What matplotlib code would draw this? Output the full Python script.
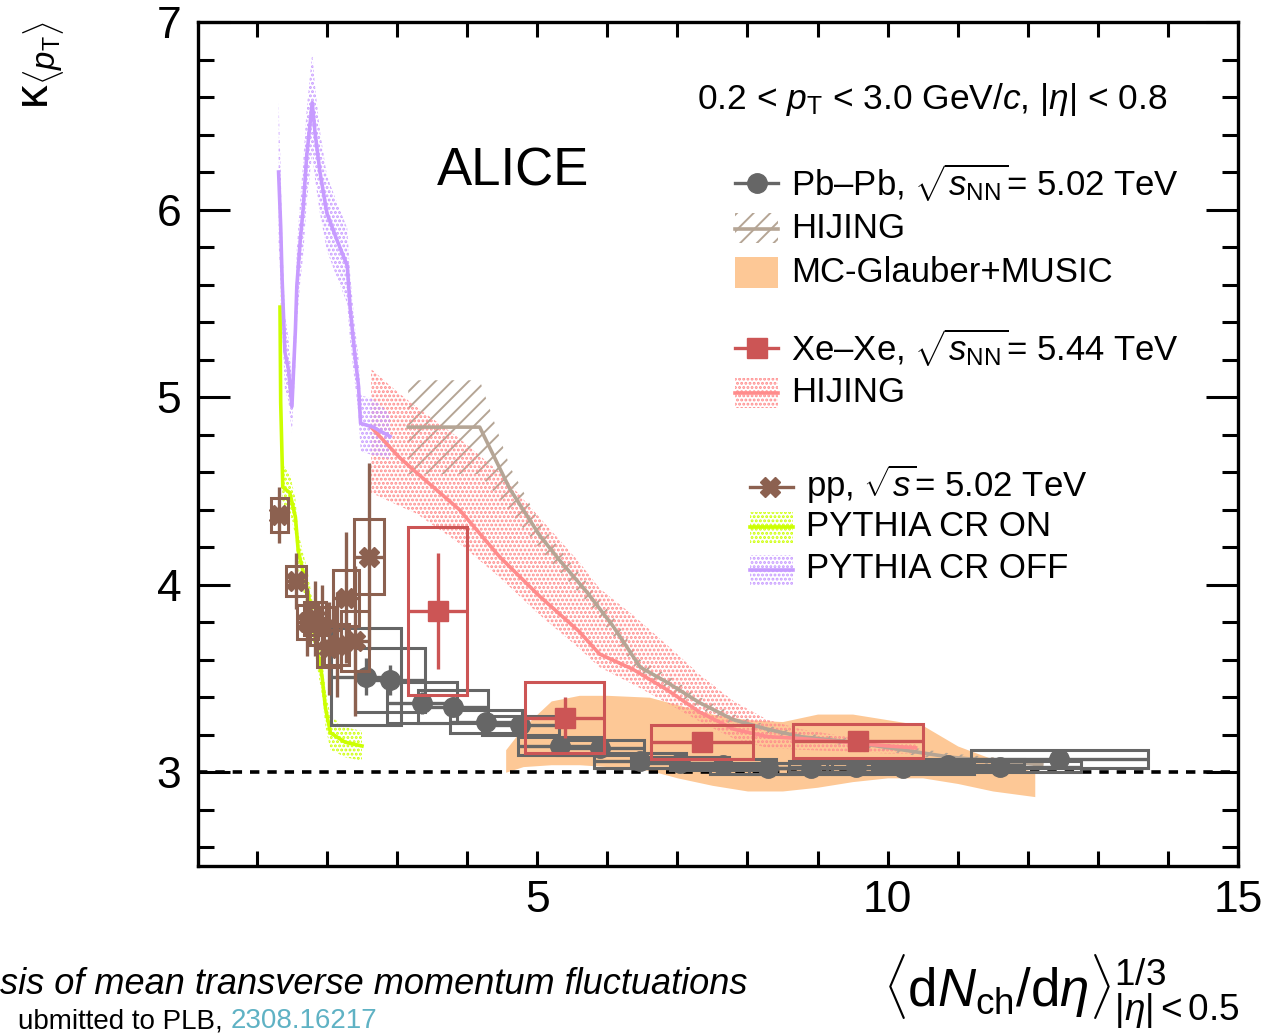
import numpy as np
import matplotlib
matplotlib.use("Agg")
import matplotlib.pyplot as plt
from matplotlib.patches import Rectangle
from matplotlib.lines import Line2D

plt.rcParams['font.family'] = ['Liberation Sans', 'DejaVu Sans']
plt.rcParams['mathtext.fontset'] = 'custom'
plt.rcParams['mathtext.rm'] = 'Liberation Sans'
plt.rcParams['mathtext.it'] = 'Liberation Sans:italic'
plt.rcParams['mathtext.bf'] = 'Liberation Sans:bold'
plt.rcParams['hatch.linewidth'] = 1.4

# ---------------- data ----------------
# Pb-Pb 5.02 TeV
pb_x = [2.56, 2.90, 3.35, 3.80, 4.27, 4.76, 5.33, 5.90, 6.47, 7.04, 7.65, 8.30, 8.91, 9.55, 10.22, 10.86, 11.60, 12.45]
pb_y = [3.51, 3.49, 3.37, 3.35, 3.27, 3.25, 3.14, 3.13, 3.06, 3.05, 3.04, 3.02, 3.02, 3.03, 3.02, 3.04, 3.03, 3.07]
pb_stat = [0.10, 0.08, 0.06, 0.05, 0.04, 0.03, 0.03, 0.02, 0.02, 0.02, 0.02, 0.02, 0.02, 0.02, 0.02, 0.02, 0.02, 0.02]
pb_sysx = [0.50, 0.50, 0.50, 0.50, 0.52, 0.55, 0.60, 0.62, 0.66, 0.70, 0.76, 0.83, 0.89, 0.95, 1.02, 1.08, 1.16, 1.26]
pb_sysy = [0.26, 0.17, 0.11, 0.09, 0.06, 0.05, 0.05, 0.04, 0.04, 0.03, 0.03, 0.03, 0.03, 0.03, 0.03, 0.03, 0.03, 0.05]

# Xe-Xe 5.44 TeV
xe_x = [3.58, 5.39, 7.35, 9.58]
xe_y = [3.86, 3.29, 3.16, 3.165]
xe_stat = [0.31, 0.11, 0.03, 0.03]
xe_sysx = [0.42, 0.56, 0.73, 0.93]
xe_sysy = [0.45, 0.19, 0.09, 0.09]

# pp 5.02 TeV
pp_x = [1.32, 1.56, 1.72, 1.83, 1.93, 2.03, 2.14, 2.27, 2.40, 2.60]
pp_y = [4.37, 4.02, 3.80, 3.82, 3.78, 3.66, 3.68, 3.93, 3.70, 4.15]
pp_stat = [0.15, 0.15, 0.18, 0.20, 0.22, 0.25, 0.28, 0.35, 0.40, 0.50]
pp_sysx = [0.12, 0.14, 0.15, 0.16, 0.17, 0.17, 0.18, 0.19, 0.20, 0.21]
pp_sysy = [0.09, 0.08, 0.09, 0.09, 0.10, 0.10, 0.11, 0.15, 0.16, 0.20]

# HIJING Pb-Pb
hpb_x = [3.16, 4.18, 4.61, 5.04, 5.32, 5.71, 6.08, 6.47, 6.85, 7.32, 7.80, 8.28, 8.75, 9.50, 10.20, 10.90, 11.50, 12.20]
hpb_y = [4.84, 4.84, 4.51, 4.26, 4.13, 3.96, 3.78, 3.56, 3.48, 3.37, 3.28, 3.23, 3.19, 3.16, 3.12, 3.08, 3.06, 3.04]
hpb_e = [0.25, 0.25, 0.12, 0.07, 0.06, 0.05, 0.05, 0.04, 0.04, 0.03, 0.03, 0.02, 0.02, 0.02, 0.02, 0.02, 0.02, 0.02]

# HIJING Xe-Xe
hxe_x = [2.63, 3.03, 3.27, 3.89, 4.46, 5.03, 5.60, 5.89, 6.36, 6.85, 7.32, 7.80, 8.28, 8.75, 9.40, 10.00, 10.40]
hxe_y = [4.84, 4.68, 4.60, 4.40, 4.15, 3.94, 3.75, 3.63, 3.55, 3.44, 3.32, 3.23, 3.19, 3.18, 3.16, 3.14, 3.13]
hxe_up = [5.15, 5.02, 4.95, 4.78, 4.60, 4.36, 4.12, 3.98, 3.84, 3.68, 3.52, 3.38, 3.28, 3.23, 3.19, 3.17, 3.16]
hxe_lo = [4.49, 4.42, 4.38, 4.22, 4.04, 3.84, 3.66, 3.56, 3.47, 3.37, 3.27, 3.18, 3.13, 3.12, 3.11, 3.10, 3.10]

# MC-Glauber + MUSIC
mu_x = [4.55, 4.80, 5.20, 5.60, 6.00, 6.60, 7.00, 7.50, 8.00, 8.50, 9.00, 9.50, 10.00, 10.50, 11.00, 11.50, 12.10]
mu_up = [3.12, 3.24, 3.38, 3.41, 3.41, 3.40, 3.36, 3.31, 3.28, 3.27, 3.31, 3.31, 3.28, 3.25, 3.14, 3.07, 3.00]
mu_lo = [3.00, 3.03, 3.04, 3.04, 3.03, 3.01, 2.97, 2.93, 2.90, 2.90, 2.92, 2.95, 2.97, 2.97, 2.94, 2.90, 2.87]

# PYTHIA CR ON
on_x = [1.33, 1.34, 1.37, 1.47, 1.55, 1.59, 1.73, 1.86, 1.93, 1.98, 2.05, 2.26, 2.50]
on_y = [5.48, 4.97, 4.52, 4.49, 4.36, 4.18, 3.96, 3.66, 3.51, 3.34, 3.21, 3.16, 3.14]
on_e = [0.32, 0.20, 0.12, 0.10, 0.10, 0.10, 0.10, 0.10, 0.10, 0.10, 0.09, 0.08, 0.08]

# PYTHIA CR OFF
off_x = [1.31, 1.34, 1.36, 1.40, 1.45, 1.50, 1.55, 1.57, 1.62, 1.66, 1.71, 1.79, 1.83, 1.90, 2.00, 2.14, 2.29, 2.33, 2.40, 2.45, 2.48, 2.66, 2.90]
off_y = [6.20, 5.91, 5.63, 5.24, 5.15, 4.95, 5.36, 5.59, 5.84, 6.00, 6.28, 6.57, 6.41, 6.20, 5.98, 5.84, 5.70, 5.48, 5.22, 5.06, 4.86, 4.84, 4.79]
off_e = [0.38, 0.30, 0.25, 0.20, 0.17, 0.14, 0.18, 0.20, 0.22, 0.25, 0.25, 0.27, 0.25, 0.22, 0.20, 0.20, 0.20, 0.18, 0.15, 0.15, 0.15, 0.15, 0.12]

# colours
c_pb = '#666666'
c_xe = '#cc5555'
c_pp = '#8c6150'
c_hpb = '#b5a595'
c_mu = '#fdc896'
c_hxe = '#ff8c8c'
c_on = '#ccff00'
c_off = '#c79bff'

DOTS = '....'

W, H = 1287, 1035
fig = plt.figure(figsize=(W / 100, H / 100), dpi=100)
ax = fig.add_axes([198 / W, 1 - 866 / H, (1238 - 198) / W, (866 - 22) / H])
ax.set_xlim(0.16, 15.0)
ax.set_ylim(2.5, 7.0)

# bands
ax.fill_between(mu_x, mu_lo, mu_up, color=c_mu, lw=0, zorder=1)
ax.fill_between(hpb_x, np.array(hpb_y) - np.array(hpb_e), np.array(hpb_y) + np.array(hpb_e),
                facecolor='none', edgecolor=c_hpb, hatch='//', lw=0, zorder=2)
ax.fill_between(hxe_x, hxe_lo, hxe_up, facecolor='none', edgecolor=c_hxe, hatch=DOTS, lw=0, zorder=2)
ax.fill_between(on_x, np.array(on_y) - np.array(on_e), np.array(on_y) + np.array(on_e),
                facecolor='none', edgecolor=c_on, hatch=DOTS, lw=0, zorder=2)
ax.fill_between(off_x, np.array(off_y) - np.array(off_e), np.array(off_y) + np.array(off_e),
                facecolor='none', edgecolor=c_off, hatch=DOTS, lw=0, zorder=2)

# model lines
ax.plot(hpb_x, hpb_y, color=c_hpb, lw=2.6, zorder=3)
ax.plot(hxe_x, hxe_y, color=c_hxe, lw=2.6, zorder=3)
ax.plot(on_x, on_y, color=c_on, lw=2.6, zorder=3)
ax.plot(off_x, off_y, color=c_off, lw=2.6, zorder=3)

# reference line
ax.axhline(3.0, color='black', lw=2.6, ls=(0, (2.6, 2.2)), zorder=3.5)

def draw_set(x, y, st, sx, sy, col, marker, ms, z):
    for xi, yi, sxi, syi in zip(x, y, sx, sy):
        ax.add_patch(Rectangle((xi - sxi, yi - syi), 2 * sxi, 2 * syi, fill=False,
                               edgecolor=col, lw=2.2, zorder=z))
    ax.errorbar(x, y, yerr=st, xerr=sx, fmt=marker, color=col, ms=ms, elinewidth=2.4,
                capsize=0, zorder=z + 0.1)

draw_set(pb_x, pb_y, pb_stat, pb_sysx, pb_sysy, c_pb, 'o', 14, 4)
draw_set(pp_x, pp_y, pp_stat, pp_sysx, pp_sysy, c_pp, 'X', 14, 5)
draw_set(xe_x, xe_y, xe_stat, xe_sysx, xe_sysy, c_xe, 's', 15, 6)

# axes styling
for s in ax.spines.values():
    s.set_linewidth(2.4)
ax.set_xticks([5, 10, 15])
ax.set_xticks(np.arange(1, 15), minor=True)
ax.set_yticks([3, 4, 5, 6, 7])
ax.set_yticks(np.arange(2.6, 7.0, 0.2), minor=True)
ax.tick_params(which='both', direction='in', top=True, right=True, width=2.2, labelsize=32)
ax.tick_params(axis='x', which='both', length=11, pad=10)
ax.tick_params(axis='y', which='major', length=23, pad=12)
ax.tick_params(axis='y', which='minor', length=11.5)

# overlay in pixel coordinates for legend & labels
ov = fig.add_axes([0, 0, 1, 1], facecolor='none')
ov.set_xlim(0, W)
ov.set_ylim(H, 0)
ov.axis('off')

ov.text(513, 172, 'ALICE', fontsize=38, ha='center', va='center')
ov.text(697, 100, r'0.2 < $p_{\mathrm{T}}$ < 3.0 GeV/$c$, |$\eta$| < 0.8', fontsize=25.5,
        ha='left', va='center')

fs = 25
# Pb-Pb
ov.add_line(Line2D([735, 778], [183, 183], color=c_pb, lw=2.4))
ov.add_line(Line2D([757], [183], marker='o', ms=14, color=c_pb))
ov.text(791, 183, r'Pb–Pb, $\sqrt{s_{\mathrm{NN}}}$= 5.02 TeV', fontsize=fs, va='center')
# HIJING Pb
ov.add_patch(Rectangle((735, 213), 43, 30, facecolor='none', edgecolor=c_hpb, hatch='//', lw=0))
ov.add_line(Line2D([735, 778], [229, 229], color=c_hpb, lw=2.6))
ov.text(791, 229, 'HIJING', fontsize=fs, va='center')
# MUSIC
ov.add_patch(Rectangle((735, 257), 43, 31, color=c_mu, lw=0))
ov.text(791, 272, 'MC-Glauber+MUSIC', fontsize=fs, va='center')
# Xe-Xe
ov.add_line(Line2D([735, 778], [348, 348], color=c_xe, lw=2.4))
ov.add_line(Line2D([757], [348], marker='s', ms=15, color=c_xe))
ov.text(791, 348, r'Xe–Xe, $\sqrt{s_{\mathrm{NN}}}$= 5.44 TeV', fontsize=fs, va='center')
# HIJING Xe
ov.add_patch(Rectangle((735, 378), 43, 30, facecolor='none', edgecolor=c_hxe, hatch=DOTS, lw=0))
ov.add_line(Line2D([735, 778], [393, 393], color=c_hxe, lw=2.6))
ov.text(791, 392, 'HIJING', fontsize=fs, va='center')
# pp
ov.add_line(Line2D([750, 793], [487, 487], color=c_pp, lw=2.4))
ov.add_line(Line2D([770], [487], marker='X', ms=14, color=c_pp))
ov.text(806, 484, r'pp, $\sqrt{s}$= 5.02 TeV', fontsize=fs, va='center')
# PYTHIA
ov.add_patch(Rectangle((750, 512), 43, 31, facecolor='none', edgecolor=c_on, hatch=DOTS, lw=0))
ov.add_line(Line2D([750, 793], [527, 527], color=c_on, lw=2.6))
ov.text(806, 526, 'PYTHIA CR ON', fontsize=fs, va='center')
ov.add_patch(Rectangle((750, 555), 43, 31, facecolor='none', edgecolor=c_off, hatch=DOTS, lw=0))
ov.add_line(Line2D([750, 793], [570, 570], color=c_off, lw=2.6))
ov.text(806, 569, 'PYTHIA CR OFF', fontsize=fs, va='center')

# axis titles
ov.text(45, 22, r'κ$_{\langle p_{\mathrm{T}}\rangle}$', fontsize=34, rotation=90,
        ha='center', va='top')
ov.text(1240, 992, r'$\langle\mathrm{d}N_{\mathrm{ch}}/\mathrm{d}\eta\rangle^{1/3}_{|\eta|<0.5}$',
        fontsize=38, ha='right', va='center')

# slide footer fragments
ov.text(0, 994, 'sis of mean transverse momentum fluctuations', fontsize=26, style='italic',
        ha='left', va='baseline')
t1 = ov.text(18, 1034, 'ubmitted to PLB, ', fontsize=20, ha='left', va='bottom')
fig.canvas.draw()
bb = t1.get_window_extent(renderer=fig.canvas.get_renderer())
ov.text(bb.x1, 1034, '2308.16217', fontsize=20, ha='left', va='bottom', color='#5fb2c4')

fig.savefig('out.png', dpi=100)
